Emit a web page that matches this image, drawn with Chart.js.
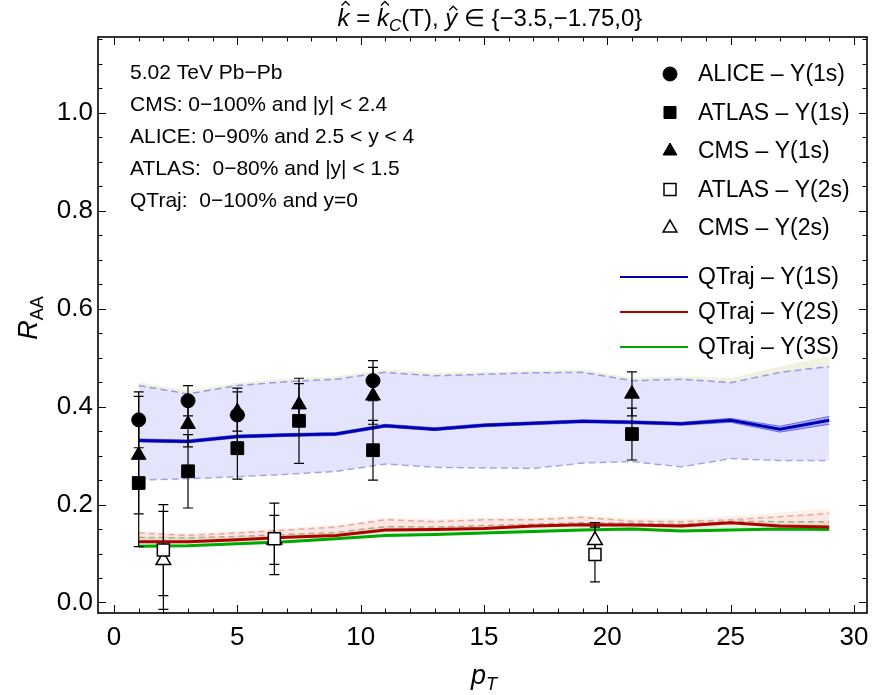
<!DOCTYPE html>
<html>
<head>
<meta charset="utf-8">
<script src="https://cdn.jsdelivr.net/npm/chart.js"></script>
<style>
  html, body { margin: 0; padding: 0; background: #fff; }
  #wrap { width: 883px; height: 695px; }
</style>
</head>
<body>
<div id="wrap"><canvas id="c" width="883" height="695"></canvas></div>
<script>
// tick labels
const xTicks = [0, 5, 10, 15, 20, 25, 30];
const yTicks = [0.0, 0.2, 0.4, 0.6, 0.8, 1.0];

// measured points (pT, R_AA, error)
const alice1X = [1, 3, 5, 10.5];
const alice1Y = [0.373, 0.412, 0.383, 0.453];
const alice1Err = [0.057, 0.031, 0.055, 0.041];

const atlas1X = [1, 3, 5, 7.5, 10.5, 21];
const atlas1Y = [0.244, 0.268, 0.315, 0.371, 0.311, 0.344];
const atlas1Err = [0.13, 0.075, 0.063, 0.087, 0.061, 0.053];

const cms1X = [1, 3, 5, 7.5, 10.5, 21];
const cms1Y = [0.301, 0.364, 0.390, 0.404, 0.422, 0.426];
const cms1Err = [0.12, 0.046, 0.04, 0.043, 0.058, 0.045];

const atlas2X = [2, 6.5, 19.5];
const atlas2Y = [0.107, 0.130, 0.098];
const atlas2Err = [0.093, 0.073, 0.056];

const cms2X = [2, 6.5, 19.5];
const cms2Y = [0.086, 0.128, 0.127];
const cms2Err = [0.10, 0.05, 0.036];

// QTraj curves
const qtX = [1, 3, 5, 7, 9, 11, 13, 15, 17, 19, 21, 23, 25, 27, 29];
const qt1S = [0.331, 0.329, 0.339, 0.342, 0.344, 0.361, 0.354, 0.362, 0.366, 0.370, 0.368, 0.365, 0.372, 0.354, 0.372];
const qt1SEnvHi = [0.334, 0.332, 0.342, 0.345, 0.347, 0.364, 0.357, 0.365, 0.369, 0.373, 0.371, 0.368, 0.376, 0.360, 0.380];
const qt1SEnvLo = [0.328, 0.326, 0.336, 0.339, 0.341, 0.358, 0.351, 0.359, 0.363, 0.367, 0.365, 0.362, 0.368, 0.348, 0.364];
const qt1SHi = [0.443, 0.426, 0.443, 0.451, 0.456, 0.470, 0.463, 0.466, 0.469, 0.470, 0.453, 0.456, 0.449, 0.470, 0.482];
const qt1SLo = [0.250, 0.253, 0.257, 0.262, 0.268, 0.283, 0.276, 0.275, 0.274, 0.285, 0.288, 0.277, 0.294, 0.290, 0.290];
const qt1STop = [0.450, 0.433, 0.449, 0.457, 0.462, 0.476, 0.469, 0.471, 0.474, 0.476, 0.459, 0.462, 0.458, 0.482, 0.503];

const qt2S = [0.124, 0.124, 0.128, 0.133, 0.137, 0.148, 0.149, 0.151, 0.156, 0.159, 0.158, 0.156, 0.163, 0.156, 0.154];
const qt2SHi = [0.142, 0.137, 0.142, 0.148, 0.154, 0.169, 0.165, 0.169, 0.169, 0.174, 0.166, 0.165, 0.169, 0.175, 0.182];
const qt2STop = [0.146, 0.141, 0.146, 0.152, 0.158, 0.173, 0.170, 0.173, 0.174, 0.178, 0.172, 0.171, 0.176, 0.184, 0.192];

const qt3S = [0.115, 0.116, 0.120, 0.124, 0.130, 0.137, 0.139, 0.142, 0.145, 0.148, 0.150, 0.146, 0.148, 0.150, 0.149];
const qt3SHi = [0.133, 0.132, 0.135, 0.139, 0.143, 0.155, 0.154, 0.157, 0.160, 0.163, 0.162, 0.160, 0.166, 0.165, 0.165];

const noteLines = [
  "5.02 TeV Pb\u2212Pb",
  "CMS: 0\u2212100% and |y| < 2.4",
  "ALICE: 0\u221290% and 2.5 < y < 4",
  "ATLAS:  0\u221280% and |y| < 1.5",
  "QTraj:  0\u2212100% and y=0"
];

const FONT = "'Liberation Sans', Arial, sans-serif";

const pts = (xs, ys, es) => xs.map((x, i) => ({ x: x, y: ys[i], err: es ? es[i] : 0 }));

function markerSet(label, xs, ys, es, style, radius, filled) {
  return {
    label: label,
    data: pts(xs, ys, es),
    showLine: false,
    pointStyle: style,
    pointRadius: radius,
    pointBorderWidth: filled ? 1 : 1.5,
    pointBackgroundColor: filled ? '#000' : '#fff',
    pointBorderColor: '#000',
    isMarker: true
  };
}

function curve(label, ys, color, width, extra) {
  return Object.assign({
    label: label,
    data: pts(qtX, ys),
    borderColor: color,
    borderWidth: width,
    pointRadius: 0,
    tension: 0,
    fill: false
  }, extra || {});
}

const datasets = [
  markerSet('ALICE \u2013 \u03A5(1s)', alice1X, alice1Y, alice1Err, 'circle', 7, true),
  markerSet('ATLAS \u2013 \u03A5(1s)', atlas1X, atlas1Y, atlas1Err, 'rect', 9, true),
  markerSet('CMS \u2013 \u03A5(1s)', cms1X, cms1Y, cms1Err, 'triangle', 8.5, true),
  markerSet('ATLAS \u2013 \u03A5(2s)', atlas2X, atlas2Y, atlas2Err, 'rect', 8.5, false),
  markerSet('CMS \u2013 \u03A5(2s)', cms2X, cms2Y, cms2Err, 'triangle', 8.5, false),
  curve('QTraj \u2013 \u03A5(1S)', qt1S, '#0000b0', 3),
  curve('QTraj \u2013 \u03A5(2S)', qt2S, '#b00000', 3),
  curve('QTraj \u2013 \u03A5(3S)', qt3S, '#00a800', 3),
  curve('env hi', qt1SEnvHi, 'rgba(80,80,235,0.8)', 1, { fill: 9, backgroundColor: 'rgba(70,70,230,0.35)' }),
  curve('env lo', qt1SEnvLo, 'rgba(80,80,235,0.8)', 1),
  curve('1S hi', qt1SHi, 'rgba(150,150,228,0.95)', 1.5, { borderDash: [7, 4], fill: 11, backgroundColor: 'rgba(195,195,250,0.45)' }),
  curve('1S lo', qt1SLo, 'rgba(150,150,228,0.95)', 1.5, { borderDash: [7, 4] }),
  curve('1S top', qt1STop, 'rgba(0,0,0,0)', 0, { fill: 10, backgroundColor: 'rgba(222,226,185,0.45)' }),
  curve('2S hi', qt2SHi, 'rgba(232,160,150,0.9)', 1.5, { borderDash: [6, 4], fill: 6, backgroundColor: 'rgba(240,160,150,0.25)' }),
  curve('2S top', qt2STop, 'rgba(0,0,0,0)', 0, { fill: 13, backgroundColor: 'rgba(240,215,190,0.35)' }),
  curve('3S hi', qt3SHi, 'rgba(150,160,110,0.85)', 1.5, { borderDash: [6, 4], fill: 7, backgroundColor: 'rgba(150,220,150,0.3)' })
];

// draw text pieces with italics, subscripts and hats
function drawRich(ctx, segs, x, y, align) {
  let total = 0;
  segs.forEach(s => {
    ctx.font = (s.it ? 'italic ' : '') + s.size + 'px ' + FONT;
    s.w = ctx.measureText(s.t).width;
    total += s.w;
  });
  let cx = align === 'center' ? x - total / 2 : x;
  ctx.textAlign = 'left';
  ctx.textBaseline = 'alphabetic';
  segs.forEach(s => {
    ctx.font = (s.it ? 'italic ' : '') + s.size + 'px ' + FONT;
    ctx.fillText(s.t, cx, y + (s.dy || 0));
    if (s.hat) {
      const hx = cx + s.w / 2 + 2;
      const hy = y - s.size * s.hat - 3;
      ctx.save();
      ctx.lineWidth = 1.3;
      ctx.beginPath();
      ctx.moveTo(hx - 4, hy);
      ctx.lineTo(hx, hy - 4);
      ctx.lineTo(hx + 4, hy);
      ctx.stroke();
      ctx.restore();
    }
    cx += s.w;
  });
}

const decor = {
  id: 'decor',
  beforeDatasetDraw(chart, args) {
    // error bars under the markers
    if (args.index !== 4) return;
    const ctx = chart.ctx, xs = chart.scales.x, ys = chart.scales.y;
    ctx.save();
    ctx.strokeStyle = '#000';
    ctx.lineWidth = 1.2;
    chart.data.datasets.forEach(ds => {
      if (!ds.isMarker) return;
      ds.data.forEach(p => {
        const px = xs.getPixelForValue(p.x);
        const top = ys.getPixelForValue(p.y + p.err);
        const bot = ys.getPixelForValue(p.y - p.err);
        ctx.beginPath();
        ctx.moveTo(px, top); ctx.lineTo(px, bot);
        ctx.moveTo(px - 5, top); ctx.lineTo(px + 5, top);
        ctx.moveTo(px - 5, bot); ctx.lineTo(px + 5, bot);
        ctx.stroke();
      });
    });
    ctx.restore();
  },
  afterDraw(chart) {
    const ctx = chart.ctx, a = chart.chartArea;
    const xs = chart.scales.x, ys = chart.scales.y;
    ctx.save();
    // frame
    ctx.strokeStyle = '#000';
    ctx.lineWidth = 1.6;
    ctx.strokeRect(a.left, a.top, a.right - a.left, a.bottom - a.top);
    ctx.lineWidth = 1;
    ctx.beginPath();
    for (let v = 0; v <= 30; v += 1) {
      const px = Math.round(xs.getPixelForValue(v)) + 0.5;
      const len = v % 5 === 0 ? 8 : 4.5;
      ctx.moveTo(px, a.bottom); ctx.lineTo(px, a.bottom - len);
      ctx.moveTo(px, a.top); ctx.lineTo(px, a.top + len);
    }
    for (let k = 0; k <= 23; k++) {
      const v = k * 0.05;
      const py = Math.round(ys.getPixelForValue(v)) + 0.5;
      const len = k % 4 === 0 ? 8 : 4.5;
      ctx.moveTo(a.left, py); ctx.lineTo(a.left + len, py);
      ctx.moveTo(a.right, py); ctx.lineTo(a.right - len, py);
    }
    ctx.stroke();

    ctx.fillStyle = '#000';
    ctx.strokeStyle = '#000';
    // title
    drawRich(ctx, [
      { t: 'k', it: true, size: 24, hat: 0.73 },
      { t: ' = ', size: 24 },
      { t: 'k', it: true, size: 24, hat: 0.73 },
      { t: 'C', it: true, size: 17, dy: 5 },
      { t: '(T), ', size: 24 },
      { t: 'y', it: true, size: 24, hat: 0.53 },
      { t: ' \u2208 {\u22123.5,\u22121.75,0}', size: 24 }
    ], 490, 26, 'center');

    // axis titles
    drawRich(ctx, [
      { t: 'p', it: true, size: 27 },
      { t: 'T', it: true, size: 18, dy: 6 }
    ], 484, 684, 'center');
    ctx.save();
    ctx.translate(37, 318);
    ctx.rotate(-Math.PI / 2);
    drawRich(ctx, [
      { t: 'R', it: true, size: 27 },
      { t: 'AA', size: 18, dy: 6 }
    ], 0, 0, 'center');
    ctx.restore();

    // notes
    ctx.font = '21px ' + FONT;
    ctx.textAlign = 'left';
    ctx.textBaseline = 'middle';
    noteLines.forEach((t, i) => ctx.fillText(t, 130, 73 + i * 32));

    // legend
    const dsets = chart.data.datasets;
    ctx.font = '23px ' + FONT;
    for (let i = 0; i < 5; i++) {
      const ds = dsets[i];
      const y = 74 + i * 38.5;
      ctx.fillStyle = ds.pointBackgroundColor;
      ctx.strokeStyle = '#000';
      ctx.lineWidth = ds.pointBorderWidth;
      Chart.helpers.drawPoint(ctx, { pointStyle: ds.pointStyle, radius: ds.pointStyle === 'circle' ? 7 : (ds.pointStyle === 'rect' ? 8.5 : 8), rotation: 0, borderWidth: ds.pointBorderWidth }, 670, y);
      ctx.fillStyle = '#000';
      ctx.fillText(ds.label, 698, y + 1);
    }
    for (let i = 5; i < 8; i++) {
      const ds = dsets[i];
      const y = 277 + (i - 5) * 35;
      ctx.strokeStyle = ds.borderColor;
      ctx.lineWidth = 2;
      ctx.beginPath();
      ctx.moveTo(620, y); ctx.lineTo(688, y);
      ctx.stroke();
      ctx.fillStyle = '#000';
      ctx.fillText(ds.label, 698, y + 1);
    }
    ctx.restore();
  }
};

new Chart(document.getElementById('c'), {
  type: 'line',
  data: { datasets: datasets },
  options: {
    responsive: false,
    animation: false,
    devicePixelRatio: 1,
    events: [],
    layout: { padding: { top: 37, right: 16, left: 0, bottom: 0 } },
    plugins: {
      legend: { display: false },
      tooltip: { enabled: false },
      title: { display: false }
    },
    scales: {
      x: {
        type: 'linear',
        min: -0.65,
        max: 30.53,
        grid: { display: false, drawTicks: false },
        border: { display: false },
        afterBuildTicks: s => { s.ticks = xTicks.map(v => ({ value: v })); },
        afterFit: s => { s.height = 82; },
        ticks: {
          color: '#000',
          padding: 9,
          autoSkip: false,
          maxRotation: 0,
          font: { family: FONT, size: 26 },
          callback: v => String(v)
        }
      },
      y: {
        type: 'linear',
        min: -0.0215,
        max: 1.155,
        grid: { display: false, drawTicks: false },
        border: { display: false },
        afterBuildTicks: s => { s.ticks = yTicks.map(v => ({ value: v })); },
        afterFit: s => { s.width = 98; },
        ticks: {
          color: '#000',
          padding: 5,
          autoSkip: false,
          font: { family: FONT, size: 26 },
          callback: v => Number(v).toFixed(1)
        }
      }
    }
  },
  plugins: [decor]
});
</script>
</body>
</html>
